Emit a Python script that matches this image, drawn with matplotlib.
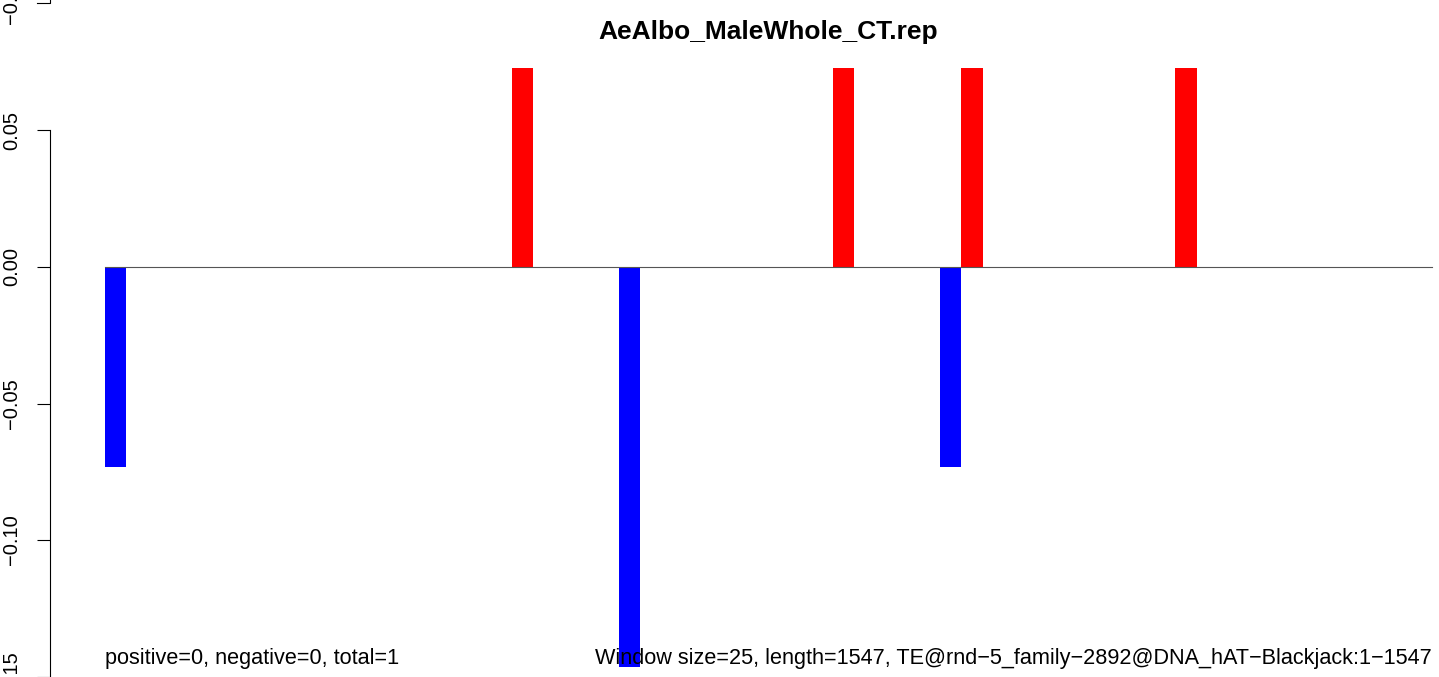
import matplotlib
matplotlib.use("Agg")
import matplotlib.pyplot as plt
import matplotlib.transforms as mtransforms
from matplotlib.lines import Line2D

plt.rcParams["font.family"] = ["Liberation Sans", "DejaVu Sans"]

# windows of 25 bp along a 1547 bp element (62 windows)
n_windows = 62
pos_windows = [19, 34, 40, 50]
pos_values = [0.0733, 0.0733, 0.0733, 0.0733]
neg_windows = [0, 24, 39]
neg_values = [-0.0733, -0.1466, -0.0733]
yticks = [0.05, 0.00, -0.05, -0.10, -0.15]
ytick_labels = ["0.05", "0.00", "\u22120.05", "\u22120.10", "\u22120.15"]

title = "AeAlbo_MaleWhole_CT.rep"
left_note = "positive=0, negative=0, total=1"
right_note = ("Window size=25, length=1547, "
              "TE@rnd\u22125_family\u22122892@DNA_hAT\u2212Blackjack:1\u22121547")

W, H = 1439, 677
fig = plt.figure(figsize=(W / 100, H / 100), dpi=100, facecolor="white")

# pixel layout of the R plot region
x0_px, slot_px = 105, 1327 / n_windows
zero_px, px_per_unit = 267, 2730
ax_left, ax_top = 50, 68
ax = fig.add_axes([ax_left / W, 0, 1 - ax_left / W, 1 - ax_top / H])
ax.set_xlim((ax_left - x0_px) / slot_px, (W - x0_px) / slot_px)
ax.set_ylim(-(H - zero_px) / px_per_unit, (zero_px - ax_top) / px_per_unit)

ax.bar(pos_windows, pos_values, width=1, align="edge", color="#FF0000", linewidth=0)
ax.bar(neg_windows, neg_values, width=1, align="edge", color="#0000FF", linewidth=0)
ax.plot([0, n_windows], [0, 0], color="#555555", lw=0.8)

for s in ["top", "right", "bottom"]:
    ax.spines[s].set_visible(False)
ax.spines["left"].set_bounds(-0.15, 0.05)
ax.spines["left"].set_linewidth(0.8)
ax.set_xticks([])
ax.set_yticks(yticks)
ax.set_yticklabels(ytick_labels, rotation=90, va="center", fontsize=14.5)
ax.tick_params(axis="y", length=9.4, width=0.8, pad=11.5)

# wrapped remnant of the bottom label at the top edge
fig.text(21 / W, 1 + 1 / H, "\u22120.15", rotation=90, ha="right", va="center",
         fontsize=14.5)
fig.add_artist(Line2D([37 / W, 50 / W, 50 / W], [1 - 3 / H, 1 - 3 / H, 1],
                      color="black", lw=0.8, transform=fig.transFigure))

fig.text(768 / W, 1 - 39 / H, title, ha="center", va="baseline",
         fontsize=19, fontweight="bold")

trans = mtransforms.blended_transform_factory(ax.transData, fig.transFigure)
ax.text(0, 1 - 664 / H, left_note, transform=trans, ha="left", va="baseline",
        fontsize=15.6, clip_on=False)
ax.text(n_windows, 1 - 664 / H, right_note, transform=trans, ha="right",
        va="baseline", fontsize=15.6, clip_on=False)

plt.savefig("out.png", dpi=100, facecolor="white")
plt.close()
